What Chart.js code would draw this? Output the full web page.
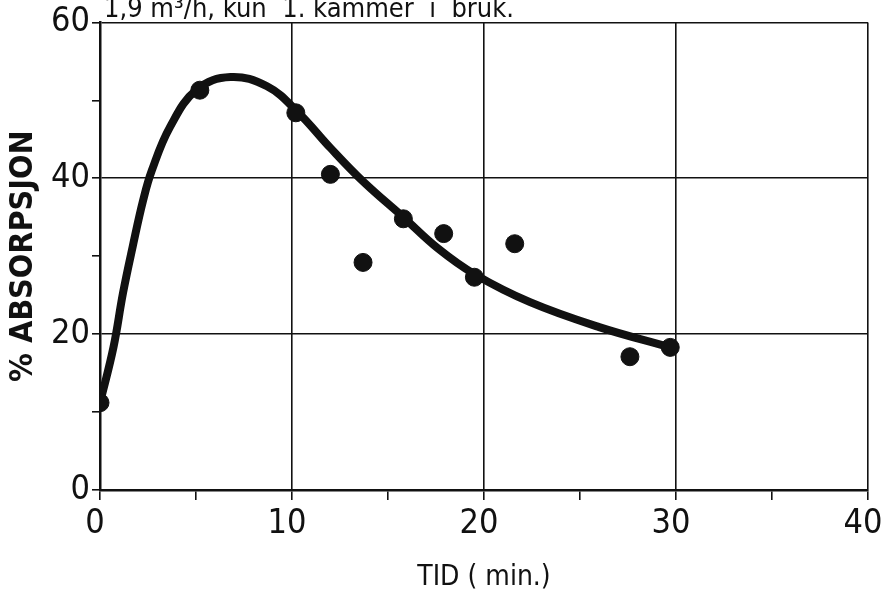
<!DOCTYPE html>
<html>
<head>
<meta charset="utf-8">
<script src="https://cdn.jsdelivr.net/npm/chart.js@4/dist/chart.umd.min.js"></script>
<style>
  html, body { margin: 0; padding: 0; background: #fff; }
  #wrap { width: 884px; height: 595px; position: relative; }
</style>
</head>
<body>
<div id="wrap"><canvas id="chart"></canvas></div>
<script>
// hand-drawn fitted curve
const curveX = [0, 0.7, 1.2, 1.7, 2.25, 2.7, 3.65, 5.05, 6.8, 8.7, 10.3, 12, 13.7, 15.8, 17.6, 19.5, 22.4, 26, 29.7];
const curveY = [11.2, 18.3, 25.3, 31.2, 37.2, 41, 46.6, 51.4, 53, 51.8, 48.5, 43.9, 39.6, 35, 31.0, 27.7, 24.1, 20.9, 18.3];

// measured points
const dotX = [0, 5.2, 10.2, 12, 13.7, 15.8, 17.9, 19.5, 21.6, 27.6, 29.7];
const dotY = [11.2, 51.3, 48.4, 40.5, 29.2, 34.8, 32.9, 27.3, 31.6, 17.1, 18.3];

const xTicks = [0, 10, 20, 30, 40];
const yTicks = [0, 20, 40, 60];

const titleText = '1,9 m\u00b3/h, kun  1. kammer  i  bruk.';
const xTitle = 'TID ( min.)';
const yTitle = '% ABSORPSJON';

const ink = '#111';
const fontFam = '"DejaVu Sans Condensed", "DejaVu Sans", sans-serif';

// title sits partly cut off at the top edge, like the scan
const topTitle = {
    id: 'topTitle',
    afterDraw(chart) {
        const ctx = chart.ctx;
        ctx.save();
        ctx.fillStyle = ink;
        ctx.font = '27px ' + fontFam;
        ctx.textBaseline = 'alphabetic';
        ctx.fillText(titleText, 104, 17);
        ctx.restore();
    }
};

new Chart(document.getElementById('chart'), {
    type: 'scatter',
    data: {
        datasets: [
            {
                label: 'kurve',
                data: curveX.map((x, i) => ({ x, y: curveY[i] })),
                showLine: true,
                borderColor: ink,
                borderWidth: 8,
                pointRadius: 0,
                tension: 0.4,
                order: 2
            },
            {
                label: 'punkter',
                data: dotX.map((x, i) => ({ x, y: dotY[i] })),
                backgroundColor: ink,
                borderColor: ink,
                pointRadius: 9,
                order: 1
            }
        ]
    },
    options: {
        responsive: true,
        maintainAspectRatio: false,
        animation: false,
        layout: { padding: { left: 4, right: 16, top: 22, bottom: 0 } },
        plugins: {
            legend: { display: false },
            tooltip: { enabled: false }
        },
        scales: {
            x: {
                type: 'linear',
                min: 0, max: 40,
                afterFit: s => { s.height = 105; s.paddingRight = 0; },
                ticks: {
                    stepSize: 5,
                    color: ink,
                    padding: 4,
                    labelOffset: -5,
                    font: { family: fontFam, size: 34 },
                    callback: v => xTicks.includes(v) ? v : ''
                },
                grid: {
                    color: c => xTicks.includes(c.tick?.value) ? ink : 'rgba(0,0,0,0)',
                    tickColor: ink,
                    lineWidth: 1.6,
                    tickLength: 10
                },
                border: { color: ink, width: 2.5 },
                title: {
                    display: true,
                    text: xTitle,
                    color: ink,
                    font: { family: fontFam, size: 28 },
                    padding: { top: 4, bottom: 0 }
                }
            },
            y: {
                type: 'linear',
                min: 0, max: 60,
                afterFit: s => { s.width = 96; },
                ticks: {
                    stepSize: 10,
                    color: ink,
                    padding: 2,
                    font: { family: fontFam, size: 34 },
                    callback: v => yTicks.includes(v) ? v : ''
                },
                grid: {
                    color: c => yTicks.includes(c.tick?.value) ? ink : 'rgba(0,0,0,0)',
                    tickColor: ink,
                    lineWidth: 1.6,
                    tickLength: 8
                },
                border: { color: ink, width: 2.5 },
                title: {
                    display: true,
                    text: yTitle,
                    color: ink,
                    font: { family: fontFam, size: 32, weight: 'bold' },
                    padding: { top: 0, bottom: 0 }
                }
            }
        }
    },
    plugins: [topTitle]
});
</script>
</body>
</html>
